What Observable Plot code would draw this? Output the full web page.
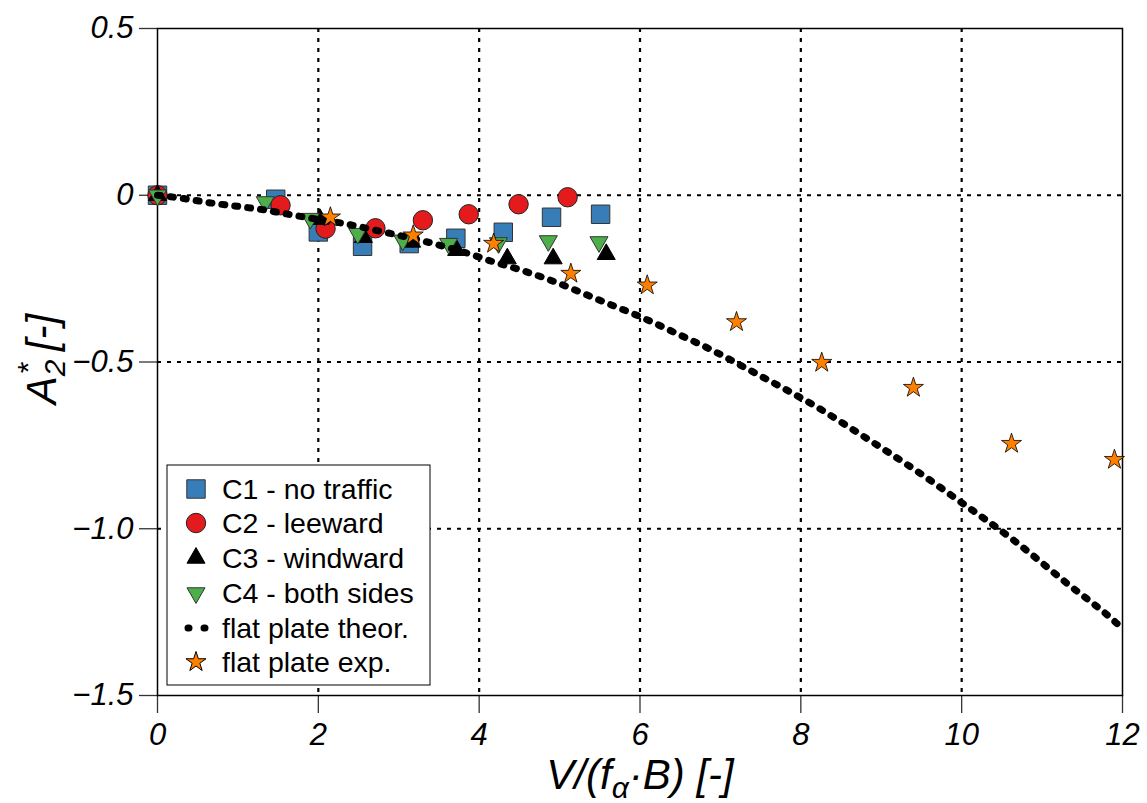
<!DOCTYPE html>
<html><head><meta charset="utf-8">
<script src="https://cdn.jsdelivr.net/npm/d3@7"></script>
<script src="https://cdn.jsdelivr.net/npm/@observablehq/plot@0.6"></script>
<style>body{margin:0;background:#fff;}</style>
</head><body><div id="chart"></div>
<script>
// ---- data ----
const c1X = [0, 1.47, 2.00, 2.55, 3.13, 3.71, 4.30, 4.90, 5.51];
const c1Y = [0, -0.012, -0.11, -0.153, -0.145, -0.129, -0.111, -0.066, -0.057];
const c2X = [0, 1.53, 2.09, 2.71, 3.30, 3.87, 4.49, 5.10];
const c2Y = [0, -0.03, -0.10, -0.099, -0.075, -0.057, -0.027, -0.006];
const c3X = [0, 2.02, 2.56, 3.16, 3.72, 4.35, 4.92, 5.58];
const c3Y = [0, -0.072, -0.126, -0.14, -0.165, -0.19, -0.19, -0.177];
const c4X = [0, 1.34, 1.90, 2.49, 3.05, 3.62, 4.24, 4.86, 5.49];
const c4Y = [0, -0.02, -0.07, -0.115, -0.135, -0.145, -0.143, -0.137, -0.14];
const expX = [2.15, 3.18, 4.18, 5.14, 6.09, 7.20, 8.26, 9.40, 10.62, 11.90];
const expY = [-0.066, -0.12, -0.145, -0.235, -0.27, -0.38, -0.502, -0.577, -0.745, -0.793];
const thX = [0, 0.33, 0.66, 0.99, 1.30, 1.63, 1.94, 2.28, 2.77, 3.40, 3.87, 4.18, 4.49, 4.80, 5.55, 6.01, 6.46, 6.90, 7.33, 7.77, 8.20, 8.63, 9.02, 9.46, 9.99, 10.65, 11.29, 11.93, 12];
const thY = [0, -0.010, -0.023, -0.033, -0.043, -0.057, -0.070, -0.083, -0.108, -0.143, -0.175, -0.20, -0.222, -0.247, -0.32, -0.365, -0.415, -0.465, -0.52, -0.577, -0.635, -0.70, -0.76, -0.83, -0.92, -1.035, -1.16, -1.284, -1.30];
const xTicks = [0, 2, 4, 6, 8, 10, 12];
const yTicks = [0.5, 0, -0.5, -1.0, -1.5];
const yTickLabels = ["0.5", "0", "\u22120.5", "\u22121.0", "\u22121.5"];
const xGrid = [2, 4, 6, 8, 10];
const yGrid = [0, -0.5, -1.0];
const legendLabels = ["C1 - no traffic", "C2 - leeward", "C3 - windward", "C4 - both sides", "flat plate theor.", "flat plate exp."];

const zip = (xs, ys) => xs.map((x, i) => ({x, y: ys[i]}));
const c1 = zip(c1X, c1Y), c2 = zip(c2X, c2Y), c3 = zip(c3X, c3Y), c4 = zip(c4X, c4Y);
const ex = zip(expX, expY), th = zip(thX, thY);

const COL = {blue: "#377eb8", red: "#e41a1c", green: "#4daf4a", orange: "#ff7f00"};
const R = {sq: 10.4, ci: 9.7, tri: 6.7, star: 6.3};
const dash = "4,6";

const chart = Plot.plot({
  width: 1147, height: 803,
  marginLeft: 157, marginRight: 25, marginTop: 28, marginBottom: 108,
  style: {fontFamily: "'Liberation Sans', Arial, sans-serif", fontSize: "31px", fontStyle: "italic", background: "white", color: "black"},
  x: {domain: [0, 12]},
  y: {domain: [-1.5, 0.5]},
  marks: [
    Plot.ruleX(xGrid, {stroke: "black", strokeWidth: 2.2, strokeDasharray: dash}),
    Plot.ruleY(yGrid, {stroke: "black", strokeWidth: 2.2, strokeDasharray: dash}),
    Plot.axisX({ticks: xTicks, tickSize: 18, tickPadding: 9, label: null, strokeWidth: 1.3, stroke: "#333"}),
    Plot.axisY({ticks: yTicks, tickSize: 18, tickPadding: 6, label: null, strokeWidth: 1.3, stroke: "#333",
      tickFormat: d => yTickLabels[yTicks.indexOf(d)]}),
    Plot.frame({stroke: "black", strokeWidth: 1.5}),
    Plot.dot(c1, {x: "x", y: "y", symbol: "square", r: R.sq, fill: COL.blue, stroke: "#333", strokeWidth: 1}),
    Plot.dot(c2, {x: "x", y: "y", symbol: "circle", r: R.ci, fill: COL.red, stroke: "#222", strokeWidth: 1}),
    Plot.dot(c3, {x: "x", y: "y", symbol: "triangle", r: R.tri, fill: "black", stroke: "black", strokeWidth: 1}),
    Plot.dot(c4, {x: "x", y: "y", symbol: "triangle", rotate: 180, r: R.tri, fill: COL.green, stroke: "#333", strokeWidth: 1}),
    Plot.line(th, {x: "x", y: "y", stroke: "black", strokeWidth: 7, strokeDasharray: "3,10", strokeLinecap: "round", curve: "monotone-x"}),
    Plot.dot(ex, {x: "x", y: "y", symbol: "star", r: R.star, fill: COL.orange, stroke: "black", strokeWidth: 0.8})
  ]
});
document.getElementById("chart").appendChild(chart);

const svg = d3.select(chart);
// axis labels
const xl = svg.append("text").attr("x", 640).attr("y", 789).attr("text-anchor", "middle")
  .style("font-size", "42px").style("font-style", "italic").attr("fill", "black");
xl.append("tspan").text("V/(f");
xl.append("tspan").attr("dy", 9).style("font-size", "30px").text("\u03b1");
xl.append("tspan").attr("dy", -9).text("\u00b7B) [-]");

const yl = svg.append("text").attr("transform", "translate(56,359) rotate(-90)").attr("text-anchor", "middle")
  .style("font-size", "42px").style("font-style", "italic").attr("fill", "black");
yl.append("tspan").text("A");
yl.append("tspan").attr("dy", 9).style("font-size", "30px").text("2");
yl.append("tspan").attr("dx", -15).attr("dy", -27).style("font-size", "30px").text("*");
yl.append("tspan").attr("dy", 18).text(" [-]");

// legend
const lg = svg.append("g").style("font-style", "normal").style("font-size", "28.5px");
lg.append("rect").attr("x", 167).attr("y", 465).attr("width", 263).attr("height", 220)
  .attr("fill", "white").attr("stroke", "black").attr("stroke-width", 1);
const rows = [489, 523, 558, 593, 628, 662];
const sym = (type, r) => d3.symbol(type, Math.PI * r * r)();
const items = [
  {d: sym(d3.symbolSquare, R.sq), fill: COL.blue, stroke: "#333"},
  {d: sym(d3.symbolCircle, R.ci), fill: COL.red, stroke: "#222"},
  {d: sym(d3.symbolTriangle, R.tri), fill: "black", stroke: "black"},
  {d: sym(d3.symbolTriangle, R.tri), fill: COL.green, stroke: "#333", rot: 180},
  {line: true},
  {d: sym(d3.symbolStar, R.star), fill: COL.orange, stroke: "black"}
];
items.forEach((it, i) => {
  const y = rows[i];
  if (it.line) {
    lg.append("line").attr("x1", 188).attr("x2", 205).attr("y1", y).attr("y2", y)
      .attr("stroke", "black").attr("stroke-width", 7).attr("stroke-linecap", "round").attr("stroke-dasharray", "1,15");
  } else {
    lg.append("path").attr("d", it.d).attr("transform", `translate(196,${y})` + (it.rot ? ` rotate(${it.rot})` : ""))
      .attr("fill", it.fill).attr("stroke", it.stroke).attr("stroke-width", 1);
  }
  lg.append("text").attr("x", 222).attr("y", y).attr("dy", "0.35em").attr("text-anchor", "start").attr("fill", "black").text(legendLabels[i]);
});
</script>
</body></html>
